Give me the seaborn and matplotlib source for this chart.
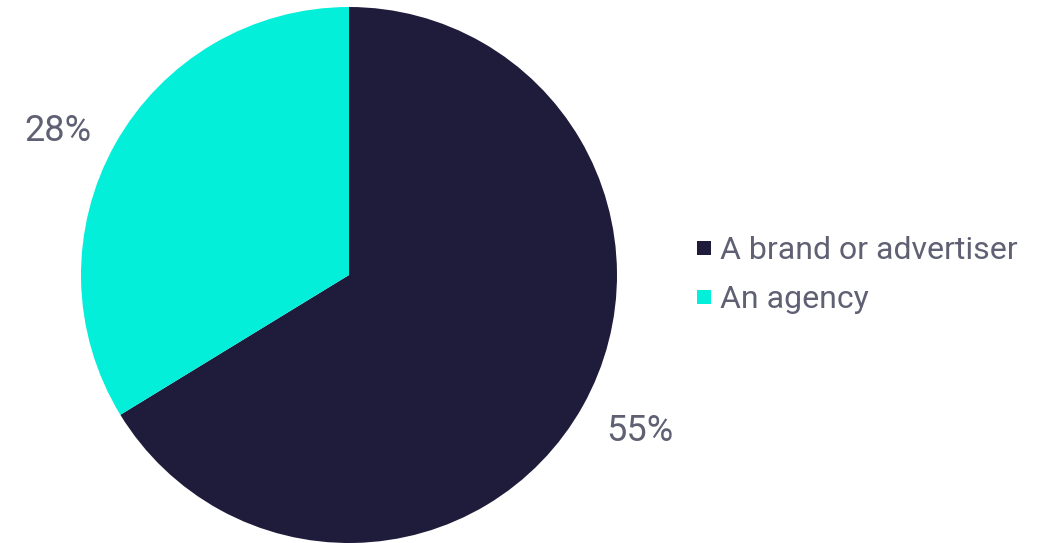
import matplotlib
matplotlib.use("Agg")
import matplotlib.pyplot as plt
from matplotlib.lines import Line2D
import seaborn as sns

categories = ["A brand or advertiser", "An agency"]
values = [55, 28]
colors = ["#1f1b3b", "#03efd9"]
text_color = "#5f6073"

sns.set_theme(style="white")
plt.rcParams["font.family"] = ["Roboto", "DejaVu Sans"]

fig = plt.figure(figsize=(10.54, 5.43), dpi=100)
fig.patch.set_facecolor("white")
ax = fig.add_axes([81 / 1054, 0 / 543, 536 / 1054, 536 / 543])

wedges, texts = ax.pie(
    values,
    labels=[f"{v}%" for v in values],
    colors=colors,
    startangle=90,
    counterclock=False,
    labeldistance=1.1,
    wedgeprops=dict(linewidth=0),
    textprops=dict(color=text_color, fontsize=26),
)
# nudge the lower-right label slightly further down
x0, y0 = texts[0].get_position()
texts[0].set_position((x0, y0 - 0.045))
ax.set_xlim(-1, 1)
ax.set_ylim(-1, 1)
ax.set_aspect("equal")
ax.axis("off")

handles = [
    Line2D([0], [0], marker="s", linestyle="none", markersize=10,
           markerfacecolor=c, markeredgewidth=0)
    for c in colors
]
leg = fig.legend(
    handles, categories,
    loc="upper left", bbox_to_anchor=(694 / 1054, 1 - 236 / 543),
    frameon=False, handlelength=0.6, handletextpad=0.2,
    labelspacing=0.62, borderaxespad=0, borderpad=0,
    prop=dict(size=23),
)
for t in leg.get_texts():
    t.set_color(text_color)

fig.savefig("out.png", dpi=100, facecolor="white")
